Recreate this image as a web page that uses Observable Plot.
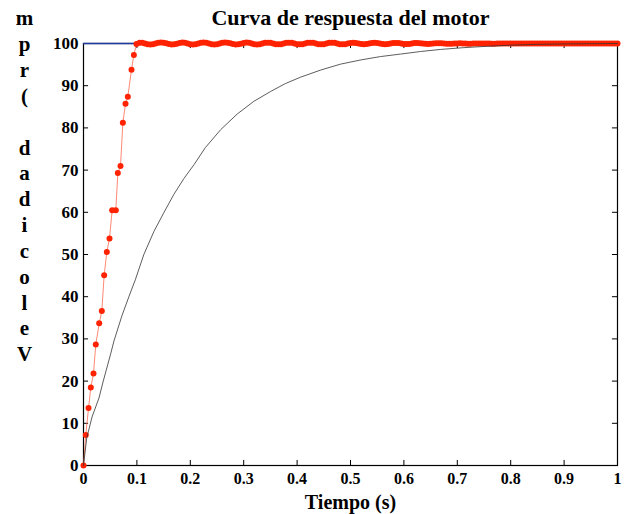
<!DOCTYPE html>
<html>
<head>
<meta charset="utf-8">
<script src="https://cdn.jsdelivr.net/npm/d3@7"></script>
<script src="https://cdn.jsdelivr.net/npm/@observablehq/plot@0.6"></script>
<style>
  html, body { margin: 0; padding: 0; background: #fff; }
  #chart svg { display: block; }
</style>
</head>
<body>
<div id="chart"></div>
<script>
// ---- Data ----
const titleText = "Curva de respuesta del motor";
const xLabel = "Tiempo (s)";
const yLabelLetters = ["m", "p", "r", "(", "", "d", "a", "d", "i", "c", "o", "l", "e", "V"];

const xTicks = [0, 0.1, 0.2, 0.3, 0.4, 0.5, 0.6, 0.7, 0.8, 0.9, 1];
const yTicks = [0, 10, 20, 30, 40, 50, 60, 70, 80, 90, 100];

// Reference (set point), blue
const refT = [0, 1];
const refV = [100, 100];

// Red controlled response: ramp part (time, value)
const rampT = [0, 0.0043, 0.0094, 0.0137, 0.0187, 0.023, 0.0294, 0.0343, 0.0387, 0.0437, 0.0487,
               0.0537, 0.0605, 0.0643, 0.0693, 0.0737, 0.0787, 0.083, 0.0899, 0.0943, 0.0993];
const rampV = [0, 7.2, 13.6, 18.5, 21.8, 28.7, 33.7, 36.6, 45.1, 50.6, 53.8,
               60.5, 60.5, 69.3, 71.0, 81.2, 85.7, 87.4, 93.8, 97.3, 99.9];

// Red plateau: samples every 0.005 s from 0.105 s to 1.0 s
const plateauStart = 0.105;
const plateauStep = 0.005;
const plateauV = [
  100.2, 100.2, 100.0, 99.8, 99.75, 99.8, 100.0, 100.2,
  100.25, 100.2, 100.05, 99.9, 99.75, 99.8, 99.95, 100.1,
  100.25, 100.2, 100.0, 99.8, 99.75, 99.8, 100.0, 100.2,
  100.25, 100.2, 100.0, 99.8, 99.75, 99.8, 100.0, 100.2,
  100.25, 100.2, 100.05, 99.9, 99.75, 99.8, 99.95, 100.1,
  100.25, 100.2, 100.0, 99.8, 99.75, 99.8, 100.0, 100.2,
  100.2, 100.2, 100.0, 99.8, 99.8, 99.8, 100.0, 100.2,
  100.2, 100.2, 100.0, 99.8, 99.8, 99.8, 100.0, 100.2,
  100.2, 100.15, 100.0, 99.85, 99.8, 99.85, 100.0, 100.15,
  100.2, 100.15, 100.0, 99.85, 99.8, 99.85, 100.0, 100.1,
  100.15, 100.1, 100.0, 99.9, 99.85, 99.9, 100.0, 100.1,
  100.15, 100.1, 100.0, 99.9, 99.85, 99.9, 100.0, 100.1,
  100.1, 100.1, 100.0, 99.9, 99.9, 99.9, 100.0, 100.1,
  100.1, 100.05, 100.0, 99.95, 99.9, 99.95, 100.0, 100.05,
  100.05, 100.05, 100.0, 99.95, 99.95, 99.95, 100.0, 100.0,
  100.05, 100.0, 100.0, 99.95, 99.95, 100.0, 100.0, 100.0,
  100.0, 100.0, 100.0, 100.0, 99.95, 99.95, 100.0, 100.0,
  100.0, 100.0, 100.0, 100.0, 100.0, 100.0, 100.0, 100.0,
  100.0, 100.0, 100.0, 100.0, 100.0, 100.0, 100.0, 100.0,
  100.0, 100.0, 100.0, 100.0, 100.0, 100.0, 100.0, 100.0,
  100.0, 100.0, 100.0, 100.0, 100.0, 100.0, 100.0, 100.0,
  100.0, 100.0, 100.0, 100.0, 100.0, 100.0, 100.0, 100.0,
  100.0, 100.0, 100.0, 100.0
];

// Black open-loop (motor) response
const motorT = [0, 0.006, 0.016, 0.029, 0.037, 0.051, 0.057, 0.072, 0.085, 0.097, 0.113, 0.132,
                0.150, 0.169, 0.188, 0.207, 0.228, 0.257, 0.288, 0.319, 0.350, 0.378, 0.406,
                0.444, 0.481, 0.519, 0.556, 0.594, 0.631, 0.669, 0.71, 0.75, 0.8, 0.85, 0.9, 0.95, 1.0];
const motorV = [0, 6.5, 11.5, 16, 20, 26.5, 29.5, 35.5, 40, 44, 50, 55.5,
                59.8, 64.2, 68.0, 71.3, 75.3, 79.6, 83.3, 86.3, 88.6, 90.5, 92.0,
                93.7, 95.1, 96.1, 96.9, 97.5, 98.1, 98.6, 99.0, 99.3, 99.6, 99.8, 99.9, 99.95, 100];

// ---- Build tables ----
const refData = refT.map((t, i) => ({t, v: refV[i]}));
const redData = rampT.map((t, i) => ({t, v: rampV[i]}))
  .concat(plateauV.map((v, i) => ({t: plateauStart + i * plateauStep, v})));
const motorData = motorT.map((t, i) => ({t, v: motorV[i]}));

const FONT = "'Liberation Serif', 'DejaVu Serif', serif";
const RED = "#ff2200";

const chart = Plot.plot({
  width: 626,
  height: 514,
  marginLeft: 83,
  marginRight: 9,
  marginTop: 43,
  marginBottom: 49,
  style: {fontFamily: FONT, fontWeight: "bold", background: "#fff", color: "#000", overflow: "visible"},
  x: {domain: [0, 1]},
  y: {domain: [0, 100]},
  marks: [
    Plot.frame({stroke: "#000", strokeWidth: 1.2}),
    // axes labels (no tick lines; ticks drawn inward below)
    Plot.axisX(xTicks, {tickSize: 0, tickPadding: 7, fontSize: 16, tickFormat: d => String(d), label: null}),
    Plot.axisY(yTicks, {tickSize: 0, tickPadding: 5, fontSize: 17, tickFormat: d => String(d), label: null}),
    // inward ticks on all four sides
    Plot.ruleX(xTicks, {x: d => d, y1: 0, y2: 1.2, stroke: "#000", strokeWidth: 1}),
    Plot.ruleX(xTicks, {x: d => d, y1: 100, y2: 98.8, stroke: "#000", strokeWidth: 1}),
    Plot.ruleY(yTicks, {y: d => d, x1: 0, x2: 0.0095, stroke: "#000", strokeWidth: 1}),
    Plot.ruleY(yTicks, {y: d => d, x1: 1, x2: 0.9905, stroke: "#000", strokeWidth: 1}),
    // data
    Plot.line(refData, {x: "t", y: "v", stroke: "#1f3a9e", strokeWidth: 1.5}),
    Plot.line(redData, {x: "t", y: "v", stroke: "#ff6a50", strokeWidth: 0.8}),
    Plot.dot(redData, {x: "t", y: "v", r: 3, fill: RED, stroke: "none"}),
    Plot.line(motorData, {x: "t", y: "v", stroke: "#333", strokeWidth: 0.8}),
    // title and axis labels
    Plot.text([titleText], {frameAnchor: "top", dy: -26, fontSize: 22, lineAnchor: "middle", fill: "#000"}),
    Plot.text([xLabel], {frameAnchor: "bottom", dy: 37, fontSize: 20, lineAnchor: "middle", fill: "#000"}),
    Plot.text([yLabelLetters.join("\n")], {frameAnchor: "left", dx: -59, dy: -69.5, fontSize: 21,
      lineHeight: 1.23, lineAnchor: "middle", textAnchor: "middle", fill: "#000"})
  ]
});

document.getElementById("chart").appendChild(chart);
</script>
</body>
</html>
